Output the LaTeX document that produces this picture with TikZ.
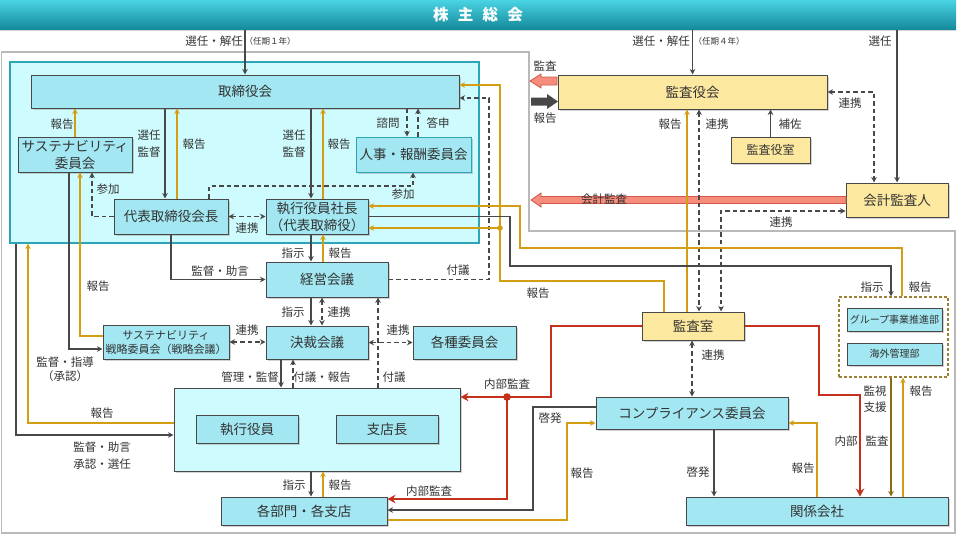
\documentclass[tikz,border=0pt]{standalone}
\usepackage{fontspec}
\setmainfont{Noto Sans CJK JP}
\usepackage{tikz}
\usetikzlibrary{arrows.meta,shadows}
\definecolor{txt}{HTML}{333333}
\definecolor{lnk}{HTML}{484848}
\definecolor{gold}{HTML}{D49E12}
\definecolor{audred}{HTML}{C4301C}
\definecolor{olive}{HTML}{8A6A12}
\definecolor{cyanbox}{HTML}{A2E7F1}
\definecolor{cyanbg}{HTML}{CEFBFD}
\definecolor{tealedge}{HTML}{2EA5B6}
\definecolor{yelbox}{HTML}{FDE8A0}
\definecolor{pinkarr}{HTML}{F58C7C}
\definecolor{bantop}{HTML}{48D2E2}
\definecolor{banbot}{HTML}{14899B}

\begin{document}
\begin{tikzpicture}[x=1pt,y=-1pt,text=txt,font=\fontsize{11.5}{13}\selectfont,
    >={Stealth[length=5.5pt,width=5.5pt]},
    sz/.style 2 args={minimum width=#1pt,minimum height=#2pt},
    box/.style={draw=lnk,fill=cyanbox,line width=1pt,align=center,inner sep=1pt,
                font=\fontsize{13.5}{17}\selectfont,
                drop shadow={shadow xshift=1.5pt,shadow yshift=-1.5pt,opacity=0.35}},
    ybox/.style={box,fill=yelbox},
    sbox/.style={box,font=\fontsize{10}{12}\selectfont},
    lbl/.style={inner sep=0pt},
    arr/.style={->,lnk,line width=1.5pt},
    rep/.style={->,gold,line width=1.5pt},
    dsh/.style={->,lnk,line width=1.6pt,dash pattern=on 4.5pt off 3pt},
    dshb/.style={<->,lnk,line width=1.6pt,dash pattern=on 4.5pt off 3pt},
    aud/.style={-{Stealth[length=8pt,width=8.5pt]},audred,line width=2.6pt}]
  \useasboundingbox (0,0) rectangle (960,535);

  % areas
  \draw[gray!55,line width=1.2pt] (1.5,52) -- (529,52) -- (529,231) -- (955,231) -- (955,533) -- (1.5,533) -- cycle;
  \node[sz={469}{181},fill=cyanbg,draw=tealedge,line width=1.2pt] (bdarea) at (244.5,152.5) {};
  \node[sz={956}{29},top color=bantop,bottom color=banbot,text=white,
        font=\bfseries\fontsize{15.5}{15.5}\selectfont,
        drop shadow={shadow xshift=0pt,shadow yshift=-1.5pt,opacity=0.35}] (soukai) at (478,15)
        {株\hspace{0.6em}主\hspace{0.6em}総\hspace{0.6em}会};

  % board side
  \node[box,sz={428}{33}] (tr) at (245,91.5) {取締役会};
  \node[box,sz={114}{35}] (sus) at (75,154.5) {サステナビリティ\\委員会};
  \node[box,sz={115}{35},draw=tealedge] (jinji) at (413.5,154.5) {人事・報酬委員会};
  \node[box,sz={114}{35}] (kaicho) at (171,216.5) {代表取締役会長};
  \node[box,sz={102}{35}] (shacho) at (317,216.5) {執行役員社長\\（代表取締役）};
  \node[box,sz={122}{35}] (keiei) at (327,279.5) {経営会議};
  \node[box,sz={102}{33}] (kessai) at (317,342.5) {決裁会議};
  \node[box,sz={126}{34},font=\fontsize{11}{14}\selectfont] (susstr) at (166,342) {サステナビリティ\\戦略委員会（戦略会議）};
  \node[box,sz={103}{33}] (kakushu) at (464.5,342.5) {各種委員会};
  \node[box,sz={286}{83},fill=cyanbg] (exec) at (317,429.5) {};
  \node[box,sz={102}{28}] (shikko) at (247,429) {執行役員};
  \node[box,sz={102}{28}] (shiten) at (387,429) {支店長};
  \node[box,sz={166}{28}] (bumon) at (304,511) {各部門・各支店};

  % audit side
  \node[ybox,sz={269}{34}] (kansayaku) at (692.5,92) {監査役会};
  \node[ybox,sz={79}{26},font=\fontsize{12}{14}\selectfont] (kyoku) at (770.5,150) {監査役室};
  \node[ybox,sz={102}{34}] (kaikei) at (897,200) {会計監査人};
  \node[ybox,sz={102}{28}] (kansa) at (693,326) {監査室};
  \node[sz={109}{80},draw=olive!85,line width=1.2pt,dash pattern=on 3pt off 2pt] (grp) at (893.5,337) {};
  \node[sbox,sz={95}{23}] (gjigyo) at (894.5,319.5) {グループ事業推進部};
  \node[sbox,sz={95}{22}] (kaigai) at (894.5,354) {海外管理部};
  \node[box,sz={192}{32}] (comp) at (692,413) {コンプライアンス委員会};
  \node[box,sz={262}{28}] (kankei) at (817,511) {関係会社};

  % block arrows
  \filldraw[fill=pinkarr,draw=audred!80,line width=0.8pt] (557,77) -- (541,77) -- (541,74) -- (530,81) -- (541,88) -- (541,85) -- (557,85) -- cycle;
  \fill[lnk] (531,97.5) -- (547,97.5) -- (547,94) -- (558,101.5) -- (547,109) -- (547,105.5) -- (531,105.5) -- cycle;
  \filldraw[fill=pinkarr,draw=audred!80,line width=0.8pt] (846,196.5) -- (541,196.5) -- (541,193) -- (531,200) -- (541,207) -- (541,203.5) -- (846,203.5) -- cycle;

  % shareholders
  \draw[arr] (soukai.south -| tr.north) -- (tr.north);
  \draw[arr] (soukai.south -| kansayaku.north) -- (kansayaku.north);
  \draw[arr] (soukai.south -| kaikei.north) -- (kaikei.north);

  % board
  \draw[arr] (tr.south -| 165,0) -- (kaicho.north -| 165,0);
  \draw[rep] (kaicho.north -| 177,0) -- (tr.south -| 177,0);
  \draw[arr] (tr.south -| 311,0) -- (shacho.north -| 311,0);
  \draw[rep] (shacho.north -| 323,0) -- (tr.south -| 323,0);
  \draw[dsh] (tr.south -| 407,0) -- (jinji.north -| 407,0);
  \draw[dsh] (jinji.north -| 418,0) -- (tr.south -| 418,0);
  \draw[rep] (sus.north) -- (tr.south -| sus.north);
  \draw[dsh] (kaicho.west) -| (sus.south -| 92,0);
  \draw[dsh] (kaicho.north -| 209,0) |- (413,186) -- (jinji.south -| 413,0);
  \draw[dshb] (kaicho) -- (shacho);
  \draw[arr] (sus.south -| 69,0) |- (susstr.west |- 0,349);
  \draw[rep] (susstr.west |- 0,336) -| (sus.south -| 80,0);
  \draw[arr] (bdarea.south -| 16,0) |- (exec.west |- 0,435);
  \draw[rep] (exec.west |- 0,423) -| (bdarea.south -| 28,0);

  % execution
  \draw[arr] (kaicho.south) |- (keiei.west);
  \draw[arr] (shacho.south -| 311,0) -- (keiei.north -| 311,0);
  \draw[rep] (keiei.north -| 323,0) -- (shacho.south -| 323,0);
  \draw[arr] (keiei.south -| 311,0) -- (kessai.north -| 311,0);
  \draw[dshb] (keiei.south -| 322,0) -- (kessai.north -| 322,0);
  \draw[dshb] (susstr.east) -- (kessai.west |- susstr.east);
  \draw[dshb] (kessai) -- (kakushu);
  \draw[arr] (kessai.south -| 281,0) -- (exec.north -| 281,0);
  \draw[dsh] (exec.north -| 293,0) -- (kessai.south -| 293,0);
  \draw[dsh] (exec.north -| 378,0) -- (keiei.south -| 378,0);
  \draw[arr] (exec.south -| 311,0) -- (bumon.north -| 311,0);
  \draw[rep] (bumon.north -| 323,0) -- (exec.south -| 323,0);
  \draw[dsh] (keiei.east) -| (489,98) -- (tr.east |- 0,98);

  % audit
  \draw[arr] (kyoku.north) -- (kansayaku.south -| kyoku.north);
  \draw[dshb] (kansayaku.east) -| (kaikei.north -| 874,0);
  \draw[dshb] (kansayaku.south -| 699,0) -- (kansa.north -| 699,0);
  \draw[rep] (kansa.north -| 687,0) -- (kansayaku.south -| 687,0);
  \draw[dshb] (kaikei.west |- 0,211) -| (kansa.north -| 721,0);
  \draw[rep] (kansa.north -| 664,0) |- (500,281) |- (tr.east |- 0,85);
  \fill[gold] (500,228) circle (2.8);
  \draw[rep] (500,228) -- (shacho.east |- 0,228);
  \draw[rep] (grp.north -| 902,0) |- (520,248) |- (shacho.east |- 0,206);
  \draw[arr] (shacho.east) -| (510,266) -| (grp.north -| 891,0);
  \draw[arr,olive] (grp.south -| 891,0) -- (kankei.north -| 891,0);
  \draw[rep] (kankei.north -| 903,0) -- (grp.south -| 903,0);
  \draw[dshb] (kansa.south -| 692,0) -- (comp.north -| 692,0);
  \draw[aud] (kansa.east) -| (819,395) -| (kankei.north -| 860,0);
  \draw[aud] (kansa.west) -| (551,397) -- (exec.east |- 0,397);
  \draw[aud] (507,397) |- (bumon.east |- 0,499);
  \fill[audred] (507,397) circle (3.8);

  % compliance
  \draw[arr] (comp.west |- 0,407) -| (533,510) -- (bumon.east |- 0,510);
  \draw[rep] (bumon.east |- 0,520) -| (567,423) -- (comp.west |- 0,423);
  \draw[arr] (comp.south -| 714,0) -- (kankei.north -| 714,0);
  \draw[rep] (kankei.north -| 817,0) |- (comp.east |- 0,423);

  % labels
  \node[lbl] (l1) at (214,41) {選任・解任};
  \node[lbl,font=\fontsize{8.5}{10}\selectfont] (l2) at (270,41) {（任期１年）};
  \node[lbl] (l3) at (661,41) {選任・解任};
  \node[lbl,font=\fontsize{8.5}{10}\selectfont] (l4) at (719,41) {（任期４年）};
  \node[lbl] (l5) at (880,41) {選任};
  \node[lbl] (l6) at (545,66) {監査};
  \node[lbl] (l7) at (545,118) {報告};
  \node[lbl] (l8) at (670,124) {報告};
  \node[lbl] (l9) at (717,124) {連携};
  \node[lbl] (l10) at (790,124) {補佐};
  \node[lbl] (l11) at (850,103) {連携};
  \node[lbl] (l12) at (781,222) {連携};
  \node[lbl] (l13) at (604,199) {会計監査};
  \node[lbl] (l14) at (62,124) {報告};
  \node[lbl,align=center,font=\fontsize{11.5}{17}\selectfont] (l15) at (149,144) {選任\\監督};
  \node[lbl] (l16) at (194,144) {報告};
  \node[lbl,align=center,font=\fontsize{11.5}{17}\selectfont] (l17) at (294,144) {選任\\監督};
  \node[lbl] (l18) at (339,144) {報告};
  \node[lbl] (l19) at (388,123) {諮問};
  \node[lbl] (l20) at (438,123) {答申};
  \node[lbl] (l21) at (108,189) {参加};
  \node[lbl] (l22) at (403,194) {参加};
  \node[lbl] (l23) at (247,228) {連携};
  \node[lbl] (l24) at (293,253) {指示};
  \node[lbl] (l25) at (340,253) {報告};
  \node[lbl] (l26) at (220,271) {監督・助言};
  \node[lbl] (l27) at (458,270) {付議};
  \node[lbl] (l28) at (538,293) {報告};
  \node[lbl] (l29) at (872,287) {指示};
  \node[lbl] (l30) at (920,287) {報告};
  \node[lbl] (l31) at (98,286) {報告};
  \node[lbl] (l32) at (293,312) {指示};
  \node[lbl] (l33) at (339,312) {連携};
  \node[lbl] (l34) at (247,330) {連携};
  \node[lbl] (l35) at (398,330) {連携};
  \node[lbl,align=center,font=\fontsize{11.5}{14}\selectfont] (l36) at (65,369) {監督・指導\\（承認）};
  \node[lbl] (l37) at (250,377) {管理・監督};
  \node[lbl] (l38) at (322,377) {付議・報告};
  \node[lbl] (l39) at (394,377) {付議};
  \node[lbl] (l40) at (507,384) {内部監査};
  \node[lbl] (l41) at (713,355) {連携};
  \node[lbl,align=center,font=\fontsize{11.5}{16}\selectfont] (l42) at (875,399) {監視\\支援};
  \node[lbl] (l43) at (921,391) {報告};
  \node[lbl] (l44) at (102,413) {報告};
  \node[lbl] (l45) at (550,418) {啓発};
  \node[lbl] (l46) at (846,441) {内部};
  \node[lbl] (l47) at (877,441) {監査};
  \node[lbl,align=center,font=\fontsize{11.5}{17}\selectfont] (l48) at (102,456) {監督・助言\\承認・選任};
  \node[lbl] (l49) at (582,473) {報告};
  \node[lbl] (l50) at (698,472) {啓発};
  \node[lbl] (l51) at (803,468) {報告};
  \node[lbl] (l52) at (294,485) {指示};
  \node[lbl] (l53) at (340,485) {報告};
  \node[lbl] (l54) at (429,491) {内部監査};
\end{tikzpicture}
\end{document}
